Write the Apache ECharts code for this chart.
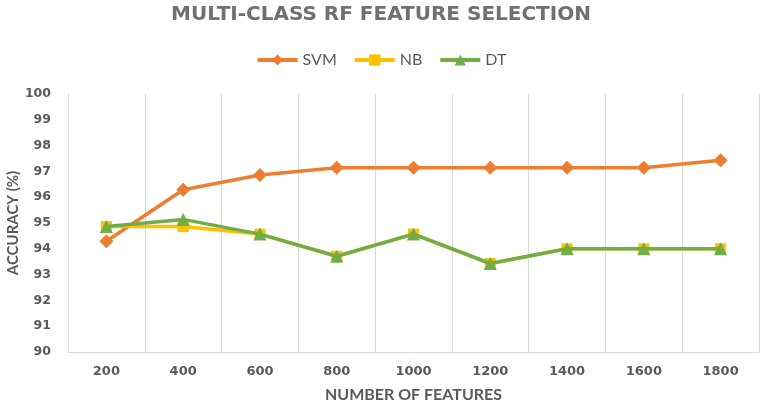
<!DOCTYPE html>
<html>
<head>
<meta charset="utf-8">
<script src="https://cdn.jsdelivr.net/npm/echarts@6/dist/echarts.min.js"></script>
<style>html,body{margin:0;padding:0;background:#fff}#c{width:762px;height:405px}</style>
</head>
<body>
<div id="c"></div>
<script>
const categories = ['200','400','600','800','1000','1200','1400','1600','1800'];
const svm = [94.29, 96.29, 96.86, 97.14, 97.14, 97.14, 97.14, 97.14, 97.43];
const nb  = [94.86, 94.86, 94.57, 93.71, 94.57, 93.43, 94.00, 94.00, 94.00];
const dt  = [94.86, 95.14, 94.57, 93.71, 94.57, 93.43, 94.00, 94.00, 94.00];
const yMin = 90, yMax = 100, yStep = 1;

const chart = echarts.init(document.getElementById('c'), null, {renderer: 'canvas'});
const gray = '#595959';
chart.setOption({
  animation: false,
  backgroundColor: '#ffffff',
  title: {
    text: 'MULTI-CLASS RF FEATURE SELECTION',
    left: 'center', top: 0,
    textStyle: {fontFamily: 'DejaVu Sans', fontWeight: 'bold', fontSize: 20, color: '#707070'}
  },
  legend: {
    top: 47, left: 'center',
    itemWidth: 40, itemHeight: 14, itemGap: 16,
    lineStyle: {width: 4},
    textStyle: {fontFamily: 'Lato', fontSize: 16, color: gray},
    data: ['SVM','NB','DT']
  },
  grid: {left: 68, right: 3, top: 94, bottom: 53, containLabel: false, outerBoundsMode: 'none'},
  xAxis: {
    type: 'category', data: categories, boundaryGap: true,
    name: 'NUMBER OF FEATURES', nameLocation: 'middle', nameGap: 35, nameMoveOverlap: false,
    nameTextStyle: {fontFamily: 'Lato', fontWeight: 'bold', fontSize: 16, color: gray},
    axisLine: {show: true, lineStyle: {color: '#d9d9d9', width: 1}},
    axisTick: {show: false},
    axisLabel: {margin: 13, fontFamily: 'DejaVu Sans', fontWeight: 'bold', fontSize: 13, color: gray},
    splitLine: {show: true, lineStyle: {color: '#d9d9d9', width: 1}}
  },
  yAxis: {
    type: 'value', min: yMin, max: yMax, interval: yStep,
    name: 'ACCURACY (%)', nameLocation: 'middle', nameGap: 47, nameRotate: 90, nameMoveOverlap: false,
    nameTextStyle: {fontFamily: 'Lato', fontWeight: 'bold', fontSize: 15, color: gray},
    axisLine: {show: true, lineStyle: {color: '#d9d9d9', width: 1}},
    axisTick: {show: false},
    axisLabel: {margin: 17, fontFamily: 'DejaVu Sans', fontWeight: 'bold', fontSize: 12.5, color: gray},
    splitLine: {show: false}
  },
  series: [
    {name: 'SVM', type: 'line', data: svm, symbol: 'diamond', symbolSize: 14,
     itemStyle: {color: '#ED7D31'}, lineStyle: {color: '#ED7D31', width: 3.5}, z: 2},
    {name: 'NB', type: 'line', data: nb, symbol: 'rect', symbolSize: 11,
     itemStyle: {color: '#FFC000'}, lineStyle: {color: '#FFC000', width: 3.5}, z: 3},
    {name: 'DT', type: 'line', data: dt, symbol: 'triangle', symbolSize: 13,
     itemStyle: {color: '#70AD47'}, lineStyle: {color: '#70AD47', width: 3.5}, z: 4}
  ]
});
</script>
</body>
</html>
